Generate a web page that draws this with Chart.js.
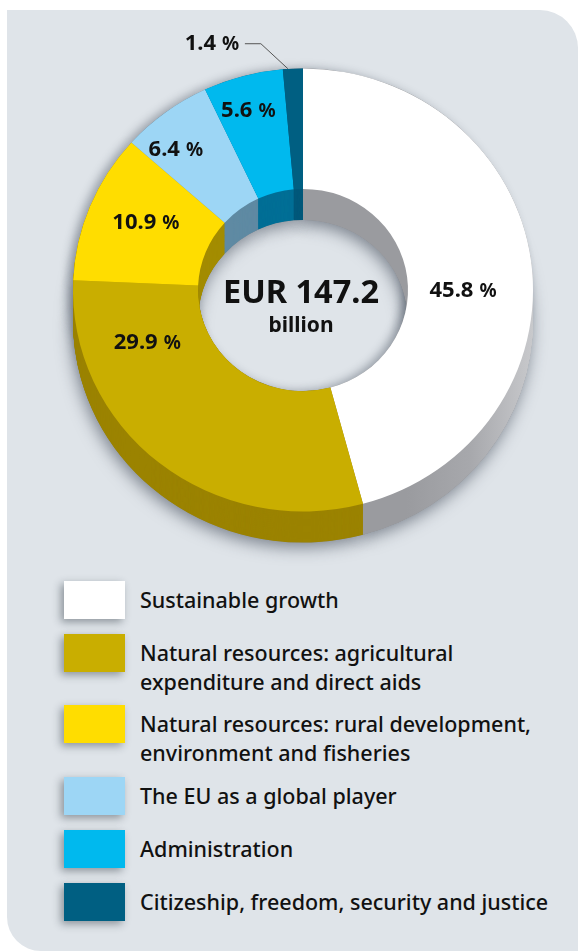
<!DOCTYPE html>
<html>
<head>
<meta charset="utf-8">
<script src="https://cdn.jsdelivr.net/npm/chart.js@4/dist/chart.umd.min.js"></script>
<style>
  html, body { margin: 0; padding: 0; background: #fff; }
  body { width: 578px; height: 951px; position: relative; overflow: hidden; font-family: "Noto Sans", sans-serif; }
  #panel { position: absolute; left: 7px; top: 10px; right: 0; bottom: 0; background: #dfe4e9; border-radius: 0 38px 0 34px; }
  #budgetChart { position: absolute; left: 0; top: 0; }
  #legend { position: absolute; left: 0; top: 0; }
  .swatch { position: absolute; left: 64px; width: 61px; height: 38px; box-shadow: -3px 3px 8px rgba(40, 50, 60, 0.45); }
  .entry { position: absolute; left: 140px; width: 430px; font-size: 21.5px; line-height: 29px; font-weight: 500; color: #111; white-space: pre-line; }
</style>
</head>
<body>
<div id="panel"></div>
<canvas id="budgetChart" width="578" height="580"></canvas>
<div id="legend"></div>
<script>
const categories = [
  'Sustainable growth',
  'Natural resources: agricultural\nexpenditure and direct aids',
  'Natural resources: rural development,\nenvironment and fisheries',
  'The EU as a global player',
  'Administration',
  'Citizeship, freedom, security and justice'
];
const shares = [45.8, 29.9, 10.9, 6.4, 5.6, 1.4];
const faceColors = ['#ffffff', '#c9ae00', '#ffdd00', '#9dd6f5', '#00b9ee', '#005f82'];
const wallColors = ['#9a9b9f', '#9b8300', '#a38c00', '#5f8aa3', '#006f96', '#00587a'];

const SQUASH = 0.963;   // the ring is a little flatter than a circle
const DEPTH = 31;
const labelFont = '"Noto Sans", sans-serif';

// nudge from each slice's middle to where its label sits
const labelNudge = [[-6, 21], [-51, -74], [-2, -7], [-27, -12], [-11, -24]];
const swatchTops = [581, 634, 705, 777, 830, 883];
const textTops = [585, 638, 709, 781, 834, 887];

const legend = document.getElementById('legend');
categories.forEach((name, i) => {
  const box = document.createElement('div');
  box.className = 'swatch';
  box.style.top = swatchTops[i] + 'px';
  box.style.background = faceColors[i];
  legend.appendChild(box);
  const text = document.createElement('div');
  text.className = 'entry';
  text.style.top = textTops[i] + 'px';
  text.textContent = name;
  legend.appendChild(text);
});

function squashAround(ctx, cy) {
  ctx.translate(0, cy);
  ctx.scale(1, SQUASH);
  ctx.translate(0, -cy);
}

function traceSlice(ctx, el, drop) {
  const props = el.getProps(['x', 'y', 'startAngle', 'endAngle', 'innerRadius', 'outerRadius'], true);
  ctx.beginPath();
  ctx.arc(props.x, props.y + drop, props.outerRadius, props.startAngle, props.endAngle);
  ctx.arc(props.x, props.y + drop, props.innerRadius, props.endAngle, props.startAngle, true);
  ctx.closePath();
}

function drawValue(ctx, value, x, y) {
  const number = value.toFixed(1);
  const bigFont = '700 22px ' + labelFont;
  const smallFont = '700 19px ' + labelFont;
  const gap = 6;
  ctx.textBaseline = 'alphabetic';
  ctx.textAlign = 'left';
  ctx.fillStyle = '#111';
  ctx.font = bigFont;
  const w1 = ctx.measureText(number).width;
  ctx.font = smallFont;
  const w2 = ctx.measureText('%').width;
  const left = x - (w1 + gap + w2) / 2;
  ctx.font = bigFont;
  ctx.fillText(number, left, y + 7);
  ctx.font = smallFont;
  ctx.fillText('%', left + w1 + gap, y + 7);
}

const ringPlugin = {
  id: 'ring',
  beforeDatasetsDraw(chart) {
    const ctx = chart.ctx;
    const slices = chart.getDatasetMeta(0).data;
    const cy = slices[0].y;
    const drop = DEPTH / SQUASH;
    ctx.save();
    squashAround(ctx, cy);

    // soft shadow round the ring and into the hole
    ctx.save();
    ctx.shadowColor = 'rgba(45, 55, 70, 0.55)';
    ctx.shadowBlur = 16;
    ctx.shadowOffsetX = -2;
    ctx.shadowOffsetY = 5;
    ctx.fillStyle = '#8a8b8f';
    slices.forEach(el => { traceSlice(ctx, el, drop); ctx.fill(); });
    ctx.shadowColor = 'rgba(45, 55, 70, 0.4)';
    ctx.shadowBlur = 10;
    ctx.shadowOffsetX = -5;
    ctx.shadowOffsetY = 0;
    slices.forEach(el => { traceSlice(ctx, el, 0); ctx.fill(); });
    ctx.restore();

    // the side wall is the ring repeated downwards in darker colours
    const cx = slices[0].x;
    const r = slices[0].outerRadius;
    const lightWall = ctx.createLinearGradient(cx + r * 0.45, 0, cx + r, 0);
    lightWall.addColorStop(0, wallColors[0]);
    lightWall.addColorStop(0.5, '#a7a8ac');
    lightWall.addColorStop(1, '#c8c9cc');
    for (let d = drop; d > 0; d -= 0.5) {
      slices.forEach((el, i) => {
        ctx.fillStyle = i === 0 ? lightWall : wallColors[i];
        traceSlice(ctx, el, d);
        ctx.fill();
      });
    }
    ctx.restore();

    ctx.save();
    squashAround(ctx, cy);
  },
  afterDatasetsDraw(chart) {
    const ctx = chart.ctx;
    ctx.restore();

    const slices = chart.getDatasetMeta(0).data;
    const cx = slices[0].x;
    const cy = slices[0].y;

    labelNudge.forEach((nudge, i) => {
      const mid = slices[i].tooltipPosition();
      const y = cy + (mid.y - cy) * SQUASH;
      drawValue(ctx, shares[i], mid.x + nudge[0], y + nudge[1]);
    });

    // smallest slice is labelled outside, with a leader line
    const last = slices[slices.length - 1];
    const mid = (last.startAngle + last.endAngle) / 2;
    const tipX = last.x + Math.cos(mid) * last.outerRadius;
    const tipY = cy + Math.sin(mid) * last.outerRadius * SQUASH;
    drawValue(ctx, shares[slices.length - 1], tipX - 81, tipY - 26);
    ctx.strokeStyle = '#555';
    ctx.lineWidth = 1;
    ctx.beginPath();
    ctx.moveTo(tipX - 48, tipY - 25);
    ctx.lineTo(tipX - 32, tipY - 25);
    ctx.lineTo(tipX - 5, tipY);
    ctx.stroke();

    ctx.textAlign = 'center';
    ctx.textBaseline = 'alphabetic';
    ctx.fillStyle = '#111';
    ctx.font = '700 32.5px ' + labelFont;
    ctx.fillText('EUR 147.2', cx - 2, cy + 13);
    ctx.font = '700 21px ' + labelFont;
    ctx.fillText('billion', cx - 2, cy + 42);
  }
};

new Chart(document.getElementById('budgetChart').getContext('2d'), {
  type: 'doughnut',
  data: {
    labels: categories,
    datasets: [{
      data: shares,
      backgroundColor: faceColors,
      borderWidth: 0,
      clip: false
    }]
  },
  options: {
    responsive: false,
    animation: false,
    radius: 230,
    cutout: '45.65%',
    layout: { padding: { left: 28, right: 0, top: 0, bottom: 0 } },
    plugins: {
      legend: { display: false },
      tooltip: { enabled: false }
    }
  },
  plugins: [ringPlugin]
});
</script>
</body>
</html>
